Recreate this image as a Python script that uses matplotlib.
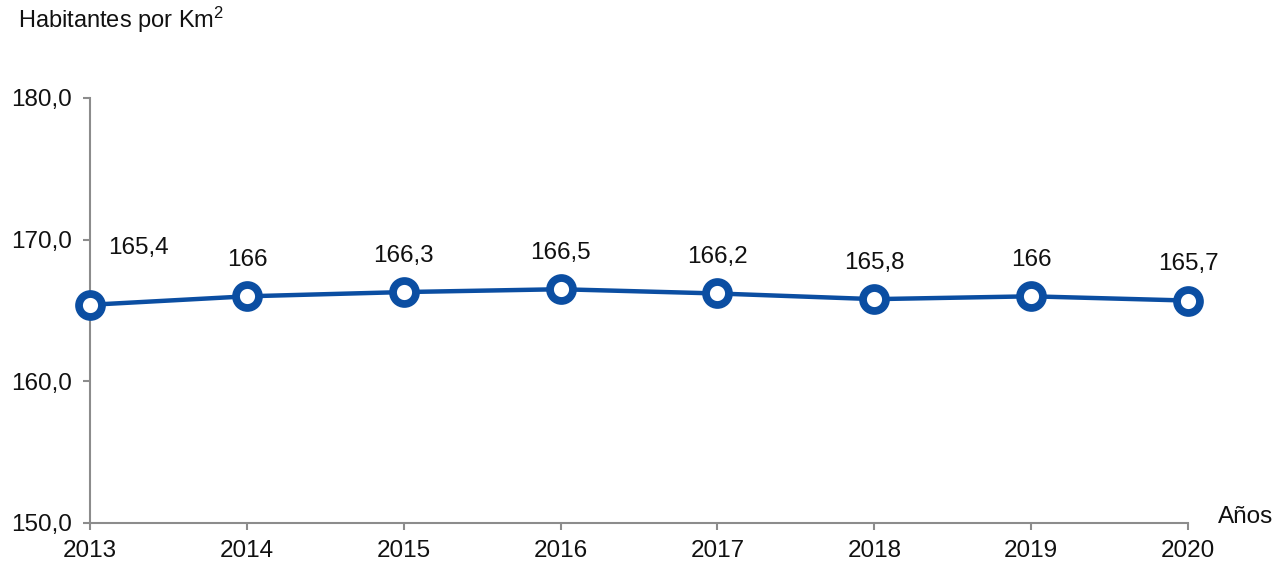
import matplotlib
matplotlib.use("Agg")
import matplotlib.pyplot as plt

plt.rcParams["font.family"] = ["Liberation Sans", "DejaVu Sans"]
plt.rcParams["mathtext.fontset"] = "custom"
plt.rcParams["mathtext.rm"] = "Liberation Sans"
plt.rcParams["mathtext.it"] = "Liberation Sans"

years = [2013, 2014, 2015, 2016, 2017, 2018, 2019, 2020]
density = [165.4, 166.0, 166.3, 166.5, 166.2, 165.8, 166.0, 165.7]
labels = ["165,4", "166", "166,3", "166,5", "166,2", "165,8", "166", "165,7"]
yticks = [150, 160, 170, 180]
ytick_labels = ["150,0", "160,0", "170,0", "180,0"]

blue = "#0B4EA2"
grey = "#8C8C8C"
fs = 17.5

fig = plt.figure(figsize=(12.86, 5.71), dpi=100)
ax = fig.add_axes([0.07, 0.0841, 0.8538, 0.7443])

ax.plot(years, density, color=blue, lw=3.2, marker="o", ms=16.5,
        mfc="white", mec=blue, mew=5.6, zorder=3, clip_on=False)

for i, (x, y, s) in enumerate(zip(years, density, labels)):
    off = (35, 41) if i == 0 else (0, 26)
    ax.annotate(s, (x, y), xytext=off, textcoords="offset points",
                ha="center", va="center", fontsize=fs, color="#111111")

ax.set_xlim(2013, 2020)
ax.set_ylim(150, 180)
ax.set_xticks(years)
ax.set_xticklabels([str(y) for y in years])
ax.set_yticks(yticks)
ax.set_yticklabels(ytick_labels)

for side in ["top", "right"]:
    ax.spines[side].set_visible(False)
for side in ["left", "bottom"]:
    ax.spines[side].set_color(grey)
    ax.spines[side].set_linewidth(1.5)
ax.tick_params(axis="both", colors=grey, labelcolor="#111111",
               labelsize=fs, width=1.5)
ax.tick_params(axis="x", length=5, pad=7)
ax.tick_params(axis="y", length=5, pad=8)

fig.text(0.014, 0.965, r"Habitantes por Km$^{\mathrm{2}}$", fontsize=17,
         ha="left", va="center", color="#111111")
fig.text(0.947, 0.094, "Años", fontsize=fs, ha="left", va="center",
         color="#111111")

fig.savefig("out.png", dpi=100)
plt.close(fig)
